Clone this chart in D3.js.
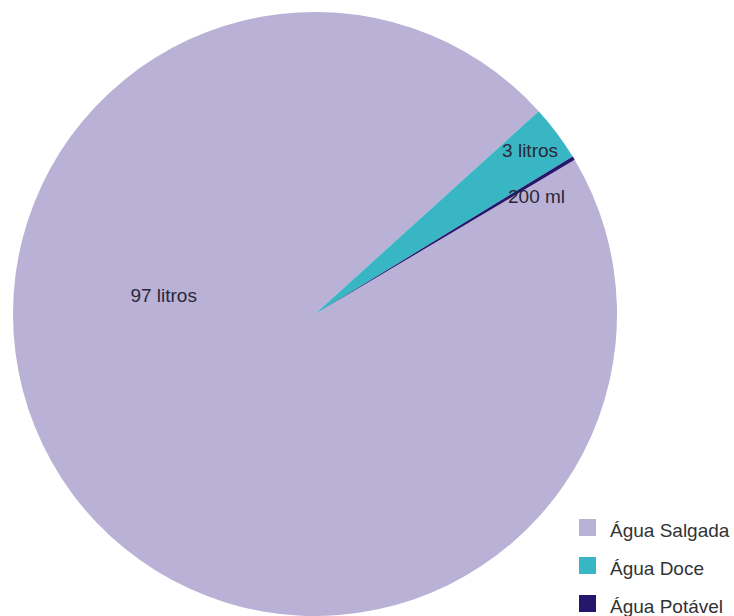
<!DOCTYPE html>
<html>
<head>
<meta charset="utf-8">
<script src="https://cdn.jsdelivr.net/npm/d3@7"></script>
<style>
  body { margin: 0; background: #fff; }
  text { font-family: "Liberation Sans", Arial, sans-serif; }
</style>
</head>
<body>
<div id="chart"></div>
<script>
// data
var categories = ["Água Salgada", "Água Doce", "Água Potável"];
var values = [97, 3, 0.2];
var sliceLabels = ["97 litros", "3 litros", "200 ml"];
var colors = ["#b9b1d6", "#39b6c3", "#24176c"];

var svgWidth = 734;
var svgHeight = 616;
var cx = 315, cy = 314, radius = 302;

var svg = d3.select("#chart")
    .append("svg")
    .attr("width", svgWidth)
    .attr("height", svgHeight);

var data = categories.map(function(c, i) {
    return { name: c, value: values[i], label: sliceLabels[i], color: colors[i] };
});

// salt water ends where fresh water starts, about 48 deg past 12 o'clock
var total = d3.sum(values);
var endSalt = 47.8 * Math.PI / 180;
var start = endSalt - (values[0] / total) * 2 * Math.PI;

var pie = d3.pie()
    .sort(null)
    .value(d => d.value)
    .startAngle(start)
    .endAngle(start + 2 * Math.PI);

var arc = d3.arc().innerRadius(0).outerRadius(radius);

var g = svg.append("g").attr("transform", `translate(${cx}, ${cy})`);

var arcs = pie(data);

g.selectAll("path")
    .data(arcs)
    .enter()
    .append("path")
    .attr("d", arc)
    .attr("fill", d => d.data.color);

// label spots (radius fraction, angle) picked to sit where the original has them
var labelPos = [
    { r: 0.505, a: -83 },
    { r: 0.894, a: 52.8 },
    { r: 0.83, a: 62.1 }
];

g.selectAll("text.slice")
    .data(arcs)
    .enter()
    .append("text")
    .attr("class", "slice")
    .attr("x", (d, i) => labelPos[i].r * radius * Math.sin(labelPos[i].a * Math.PI / 180))
    .attr("y", (d, i) => -labelPos[i].r * radius * Math.cos(labelPos[i].a * Math.PI / 180))
    .attr("text-anchor", "middle")
    .attr("dy", "0.35em")
    .attr("font-size", 19)
    .attr("fill", "#2b2838")
    .text(d => d.data.label);

// legend
var legend = svg.append("g").attr("transform", "translate(579, 519)");
var rows = legend.selectAll("g")
    .data(data)
    .enter()
    .append("g")
    .attr("transform", (d, i) => `translate(0, ${i * 38})`);

rows.append("rect")
    .attr("width", 17)
    .attr("height", 17)
    .attr("fill", d => d.color);

rows.append("text")
    .attr("x", 31)
    .attr("y", 18)
    .attr("font-size", 19)
    .attr("fill", "#333")
    .text(d => d.name);
</script>
</body>
</html>
